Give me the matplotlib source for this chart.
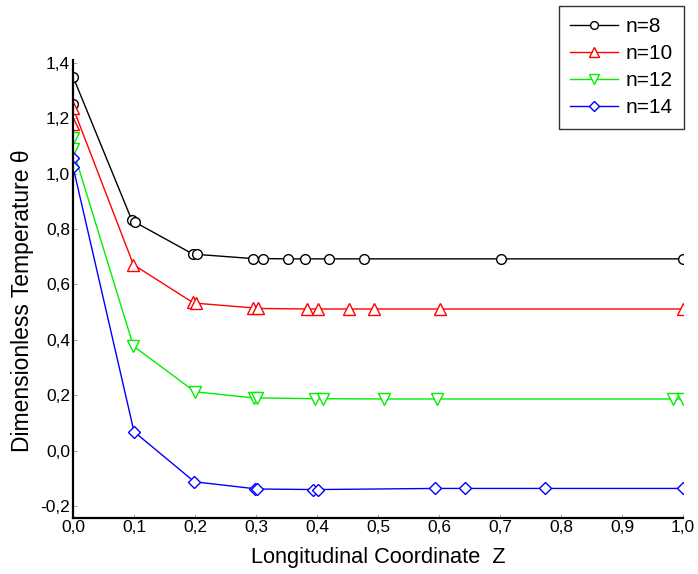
import matplotlib

matplotlib.use("Agg")
import matplotlib.pyplot as plt
from matplotlib.ticker import FixedLocator, FuncFormatter

# values
x_n8 = [0.0, 0.0, 0.096, 0.102, 0.196, 0.204, 0.295, 0.311, 0.353, 0.381, 0.419, 0.477, 0.701, 1.0]
y_n8 = [1.25, 1.35, 0.834, 0.824, 0.710, 0.708, 0.693, 0.693, 0.692, 0.692, 0.692, 0.692, 0.692, 0.692]

x_n10 = [0.0, 0.0, 0.099, 0.196, 0.201, 0.295, 0.304, 0.384, 0.402, 0.452, 0.493, 0.602, 1.0]
y_n10 = [1.18, 1.238, 0.671, 0.535, 0.532, 0.515, 0.513, 0.511, 0.511, 0.511, 0.511, 0.511, 0.511]

x_n12 = [0.0, 0.0, 0.099, 0.2, 0.296, 0.301, 0.397, 0.41, 0.51, 0.597, 0.983, 1.0]
y_n12 = [1.13, 1.087, 0.377, 0.212, 0.190, 0.190, 0.187, 0.187, 0.186, 0.186, 0.186, 0.186]

x_n14 = [0.0, 0.0, 0.1, 0.199, 0.298, 0.302, 0.394, 0.402, 0.593, 0.643, 0.774, 1.0]
y_n14 = [1.058, 1.025, 0.068, -0.113, -0.138, -0.139, -0.141, -0.141, -0.137, -0.137, -0.137, -0.137]

labels = ["n=8", "n=10", "n=12", "n=14"]
x_ticks = [0.0, 0.1, 0.2, 0.3, 0.4, 0.5, 0.6, 0.7, 0.8, 0.9, 1.0]
y_ticks = [-0.2, 0.0, 0.2, 0.4, 0.6, 0.8, 1.0, 1.2, 1.4]

plt.rcParams["font.family"] = ["Liberation Sans", "DejaVu Sans"]

fig = plt.figure(figsize=(6.98, 5.74), dpi=100)
ax = fig.add_axes([0.1046, 0.0984, 0.874, 0.797])

series = [
    (x_n8, y_n8, "black", "o", 7),
    (x_n10, y_n10, "red", "^", 8.5),
    (x_n12, y_n12, "#00ee00", "v", 8.5),
    (x_n14, y_n14, "blue", "D", 6.5),
]
for (xs, ys, color, marker, ms), label in zip(series, labels):
    ax.plot(xs, ys, color=color, linewidth=1.0, marker=marker, markersize=ms,
            markerfacecolor="white", markeredgecolor=color, markeredgewidth=1.0,
            label=label)

ax.set_xlim(0.0, 1.0)
ax.set_ylim(-0.242, 1.41)
ax.spines["top"].set_visible(False)
ax.spines["right"].set_visible(False)
ax.spines["left"].set_linewidth(1.6)
ax.spines["bottom"].set_linewidth(1.6)

comma = FuncFormatter(lambda v, pos: f"{v:.1f}".replace(".", ",").replace("-0,0", "0,0"))
ax.xaxis.set_major_locator(FixedLocator(x_ticks))
ax.yaxis.set_major_locator(FixedLocator(y_ticks))
ax.xaxis.set_major_formatter(comma)
ax.yaxis.set_major_formatter(comma)
ax.tick_params(direction="in", length=3, width=0.6, labelsize=12.5, pad=2, colors="#999999",
               labelcolor="black")

ax.set_xlabel("Longitudinal Coordinate  Z", fontsize=15.7, labelpad=8.5)
ax.set_ylabel("Dimensionless Temperature \u03b8", fontsize=16.5, labelpad=5, y=0.474)

leg = fig.legend(loc="upper right", bbox_to_anchor=(0.98, 0.9895), borderaxespad=0.0,
                 fontsize=15, handlelength=2.3, handletextpad=0.35, borderpad=0.55,
                 labelspacing=0.38, fancybox=False, framealpha=1.0, markerscale=0.8)
leg.get_frame().set_edgecolor("#333333")
leg.get_frame().set_linewidth(1.0)

fig.savefig("out.png", dpi=100)
